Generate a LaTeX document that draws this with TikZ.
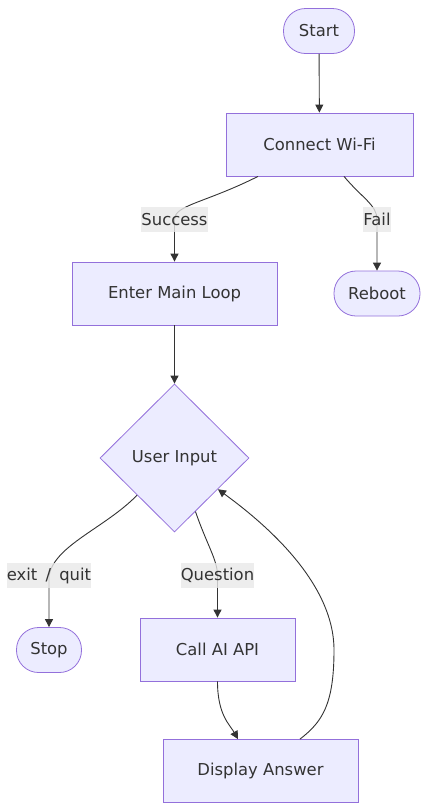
\documentclass[tikz,border=0pt]{standalone}
\usepackage{fontspec}
\setmainfont{DejaVu Sans}
\usetikzlibrary{shapes.geometric,arrows.meta,calc}

\definecolor{boxfill}{HTML}{ECECFF}
\definecolor{boxline}{HTML}{9370DB}
\definecolor{inkline}{HTML}{333333}
\definecolor{labelfill}{HTML}{E8E8E8}

\tikzset{%
  every box/.style={
    draw=boxline,
    fill=boxfill,
    line width=0.8pt,
    text=inkline,
    font=\fontsize{16.4pt}{19pt}\selectfont,
    inner sep=0pt
  },
  box rect/.style={
    minimum height=63pt
  },
  box round/.style={
    rounded corners=22pt,
    minimum height=45pt
  },
  box diamond/.style={
    diamond,
    aspect=1,
    minimum width=149pt,
    minimum height=148pt
  },
  edge label/.style={
    fill=labelfill,
    fill opacity=0.8,
    text opacity=1,
    text=inkline,
    font=\fontsize{16.4pt}{19pt}\selectfont,
    inner xsep=0pt,
    inner ysep=0pt,
    minimum height=25pt
  },
  link/.style={
    ->,
    draw=inkline,
    line width=0.9pt
  },
}

\begin{document}
\begin{tikzpicture}[x=1pt, y=-1pt, >={Triangle[length=8pt,width=8pt]}]

\useasboundingbox (0,0) rectangle (426,812);

\foreach \n/\l/\x/\y/\w in {start/Start/319/31/71, reboot/Reboot/377/293.5/86, stop/Stop/49/650/65}
  \node [every box, box round, minimum width=\w pt] (\n) at (\x,\y) {\l};

\foreach \n/\l/\x/\y/\w in {wifi/Connect Wi-Fi/319.5/144.5/187, loop/Enter Main Loop/174.5/293.5/205,
    callapi/Call AI API/217.5/649.5/155, answer/Display Answer/260.5/771/195}
  \node [every box, box rect, minimum width=\w pt] (\n) at (\x,\y) {\l};

\node [every box, box diamond] (input) at (174.5,458) {User Input};

\draw [link] (start) -- (wifi);

\draw [link] ([xshift=-61.5pt]wifi.south) .. controls (205,203) and (174.5,205) .. (174.5,219.5)
  node [edge label] {Success} -- (loop);
\draw [link] ([xshift=24.5pt]wifi.south) .. controls (362,198) and (377,205) .. (377,219.5)
  node [edge label] {Fail} -- (reboot);

\draw [link] (loop) -- (input);

\draw [link] (input.south west) .. controls (105,528) and (55,545) .. (49,575.5)
  node [edge label] {exit\enspace/\enspace quit} -- (stop);
\draw [link] ($(input.east)!0.72!(input.south)$) .. controls (207,545) and (217.5,560) .. (217.5,575.5)
  node [edge label] {Question} -- (callapi);

\draw [link] (callapi) .. controls (217.5,715) and (230,725) .. ([xshift=-22.5pt]answer.north);

% back to the decision
\draw [link] ([xshift=39.5pt]answer.north) .. controls (322,722) and (334,705) .. (334,650)
  .. controls (334,580) and (260,520) .. ($(input.east)!0.42!(input.south)$);

\end{tikzpicture}
\end{document}
